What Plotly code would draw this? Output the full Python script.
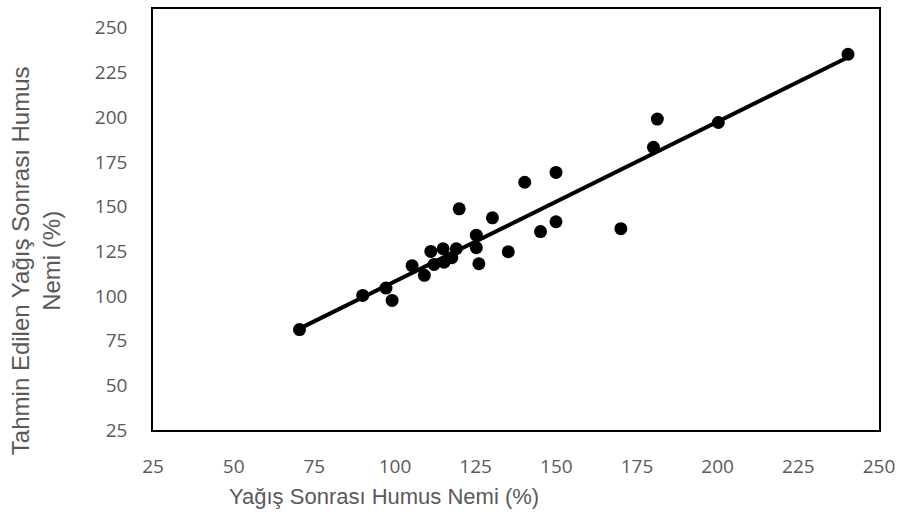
import numpy as np
import plotly.graph_objects as go

# Observed (x) vs predicted (y) humus moisture after rainfall (%)
observed = [70.4, 90.0, 97.2, 99.1, 105.3, 109.1, 111.1, 112.1, 114.9, 115.2,
            117.6, 119.0, 119.9, 125.2, 125.2, 126.0, 130.2, 135.1, 140.2, 145.1,
            149.9, 149.9, 170.0, 180.1, 181.3, 200.2, 240.4]
predicted = [81.2, 100.3, 104.4, 97.5, 116.9, 111.5, 124.9, 117.6, 126.4, 118.9,
             121.4, 126.4, 148.7, 134.0, 127.0, 118.0, 143.7, 124.7, 163.6, 136.0,
             169.1, 141.5, 137.6, 183.1, 198.9, 197.0, 235.2]
tick_vals = [25, 50, 75, 100, 125, 150, 175, 200, 225, 250]
x_title = "Yağış Sonrası Humus Nemi (%)"
y_title = "Tahmin Edilen Yağış Sonrası Humus<br>Nemi (%)"

slope, intercept = np.polyfit(observed, predicted, 1)
line_x = [min(observed), max(observed)]
line_y = [intercept + slope * v for v in line_x]

fig = go.Figure()
fig.add_trace(go.Scatter(x=line_x, y=line_y, mode="lines",
                         line=dict(color="black", width=4), showlegend=False,
                         hoverinfo="skip"))
fig.add_trace(go.Scatter(x=observed, y=predicted, mode="markers",
                         marker=dict(color="black", size=13), showlegend=False))

tickfont = dict(family="Open Sans, Lato, sans-serif", size=19, color="#595959")
fig.update_xaxes(range=[25, 250], tickvals=tick_vals, showgrid=False, zeroline=False,
                 showline=True, mirror=True, linecolor="black", linewidth=1.5,
                 ticks="", tickfont=tickfont, ticklabelstandoff=18)
fig.update_yaxes(range=[25, 260.5], tickvals=tick_vals, showgrid=False, zeroline=False,
                 showline=True, mirror=True, linecolor="black", linewidth=1.5,
                 ticks="", tickfont=tickfont, ticklabelstandoff=20)

titlefont = dict(family="Liberation Sans, Arial, sans-serif", size=22, color="#595959")
fig.add_annotation(text=x_title, xref="paper", yref="paper", x=(385 - 153) / 728,
                   y=-(497 - 430) / 423, xanchor="center", yanchor="middle",
                   showarrow=False, font=titlefont)
fig.add_annotation(text=y_title, xref="paper", yref="paper", x=-(153 - 35) / 728,
                   y=(430 - 260) / 423, xanchor="center", yanchor="middle",
                   showarrow=False, textangle=-90,
                   font=dict(family="Liberation Sans, Arial, sans-serif", size=24,
                             color="#595959"))

fig.update_layout(width=902, height=518, margin=dict(l=153, r=21, t=7, b=88),
                  plot_bgcolor="white", paper_bgcolor="white")
fig.write_html("out.html")
